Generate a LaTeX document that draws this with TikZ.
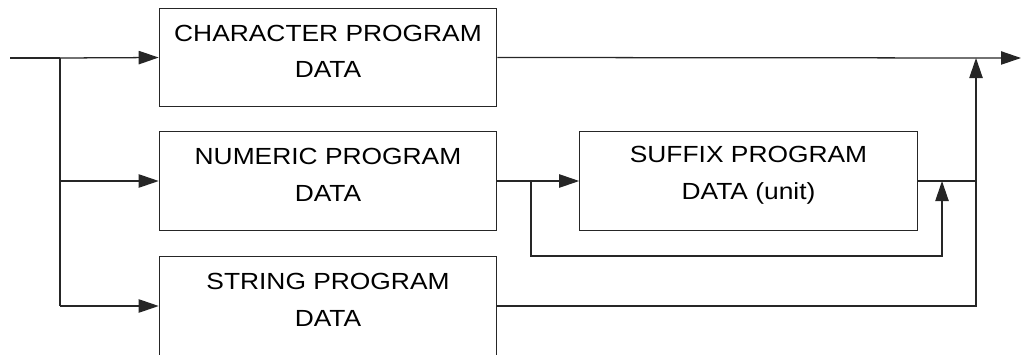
\documentclass[tikz,border=0pt]{standalone}
\usepackage{fontspec}
\setmainfont[FakeStretch=1.13]{Liberation Sans}
\usetikzlibrary{arrows.meta}
\begin{document}
\begin{tikzpicture}[x=0.75pt,y=-0.75pt,
    line width=0.95pt,draw=black!85,
    flecha/.style={-{Triangle[length=15pt,width=10pt]}},
    caja/.style={draw,rectangle,minimum width=253pt,minimum height=74pt,inner sep=0pt},
    rotulo/.style={align=center,font=\fontsize{17.5}{27.5}\selectfont,yshift=4.5pt}]
    \clip (0,0) rectangle (1023,354);

    %Cajas
    \node[caja,label={[rotulo]center:CHARACTER PROGRAM\\DATA}] (car) at (328,57.5) {};
    \node[caja,label={[rotulo]center:NUMERIC PROGRAM\\DATA}] (num) at (328,181) {};
    \node[caja,label={[rotulo]center:STRING PROGRAM\\DATA}] (cad) at (328,306) {};
    \node[caja,label={[rotulo]center:SUFFIX PROGRAM\\DATA (unit)}] (suf) at (748.5,181) {};

    %Entrada y ramas
    \coordinate (ent) at (10,58);
    \coordinate (ram) at (60,58);
    \draw (ent) -- (ram) (ram) -- (ram |- cad.west);
    \draw[flecha] (ram) -- (car.west);
    \draw[flecha] (ram |- num.west) -- (num.west);
    \draw[flecha] (ram |- cad.west) -- (cad.west);

    %Sufijo opcional
    \coordinate (des) at (531,181);
    \coordinate (vuelta) at (942,256);
    \coordinate (sal) at (976,58);
    \draw[flecha] (num.east) -- (suf.west);
    \draw[flecha] (des) |- (vuelta) -- (vuelta |- suf.east);
    \draw (suf.east) -- (sal |- suf.east);

    %Salidas
    \draw[flecha] (cad.east) -| (sal);
    \draw[flecha] (car.east) -- (1021,58);
\end{tikzpicture}
\end{document}
